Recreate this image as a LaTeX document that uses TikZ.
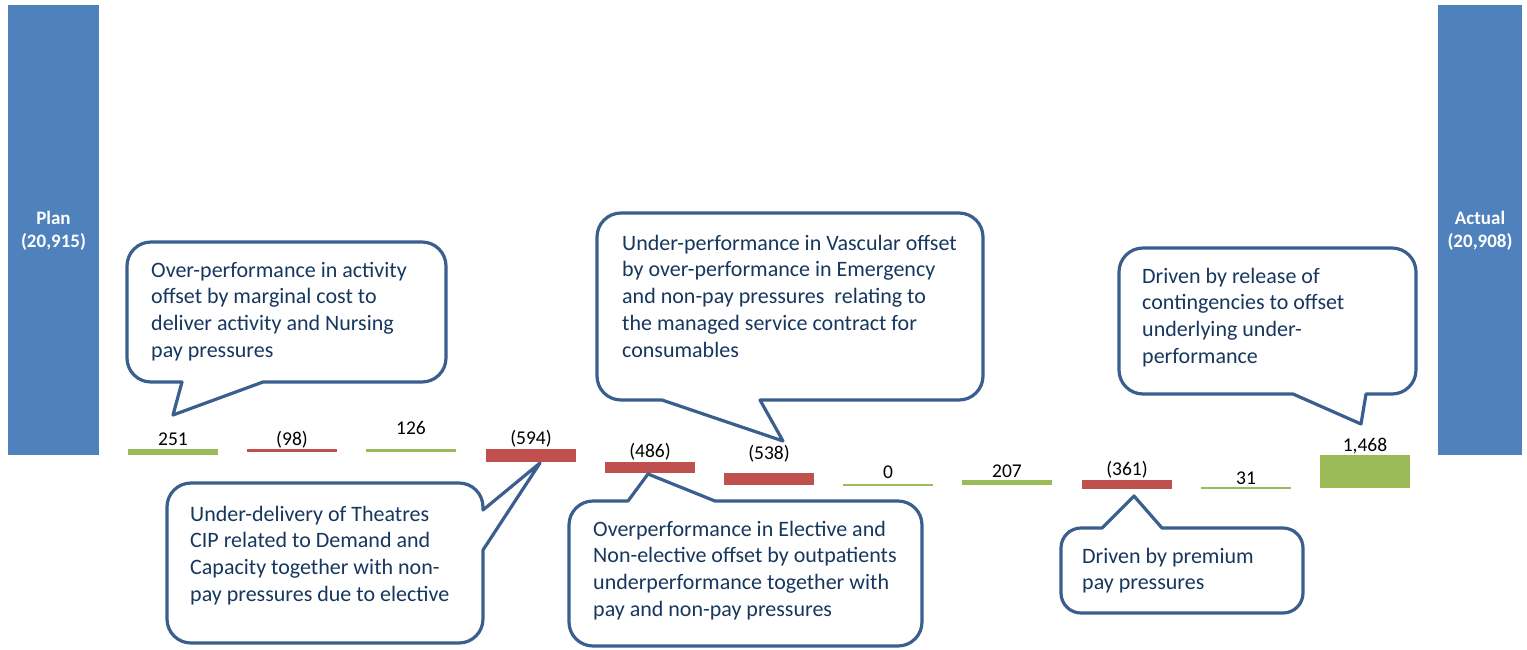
\documentclass[tikz,border=0pt]{standalone}
\usepackage{fontspec}
\setmainfont{Carlito}
\definecolor{barblue}{RGB}{79,129,189}
\definecolor{bargreen}{RGB}{155,187,89}
\definecolor{barred}{RGB}{192,80,77}
\definecolor{callborder}{RGB}{58,95,142}
\definecolor{calltext}{RGB}{23,55,94}
\tikzset{
  callbox/.style={draw=callborder, line width=3.2pt, fill=white, line join=round},
  calltxt/.style={anchor=north west, inner sep=0pt, align=left, text=calltext,
    font=\fontsize{22}{26.7}\selectfont},
  vallabel/.style={inner sep=0pt, font=\fontsize{19.5}{22}\selectfont, text=black},
  endlabel/.style={inner sep=0pt, align=center, text=white,
    font=\bfseries\fontsize{19}{23}\selectfont}
}
\newcommand{\firstline}{\rule{0pt}{18pt}}
\begin{document}
\begin{tikzpicture}[x=1pt,y=-1pt]
\useasboundingbox (0,0) rectangle (1527,649);
% end bars
\fill[barblue] (8,5) rectangle (99,455);
\fill[barblue] (1438,5) rectangle (1522,455);
\node[endlabel] (plan) at (53.5,231) {Plan\\(20,915)};
\node[endlabel] (actual) at (1480,231) {Actual\\(20,908)};
% waterfall bars
\fill[bargreen] (128,455) rectangle (218,449.36);
\fill[barred]   (247.2,449.36) rectangle (337.2,451.56);
\fill[bargreen] (366.4,451.56) rectangle (456.4,448.73);
\fill[barred]   (485.6,448.73) rectangle (575.6,462.08);
\fill[barred]   (604.8,462.08) rectangle (694.8,473.01);
\fill[barred]   (724,473.01) rectangle (814,485.10);
\fill[bargreen] (843.2,484.3) rectangle (933.2,485.8);
\fill[bargreen] (962.4,485.10) rectangle (1052.4,480.45);
\fill[barred]   (1081.6,480.45) rectangle (1171.6,488.57);
\fill[bargreen] (1200.8,488.57) rectangle (1290.8,487.3);
\fill[bargreen] (1320,487.87) rectangle (1410,454.87);
% value labels
\node[vallabel] (l1) at (173,439) {251};
\node[vallabel] (l2) at (292,440) {(98)};
\node[vallabel] (l3) at (411,428) {126};
\node[vallabel] (l4) at (531,439) {(594)};
\node[vallabel] (l5) at (650,452) {(486)};
\node[vallabel] (l6) at (769,454) {(538)};
\node[vallabel] (l7) at (888,472) {0};
\node[vallabel] (l8) at (1007,471) {207};
\node[vallabel] (l9) at (1127,470) {(361)};
\node[vallabel] (l10) at (1246,478) {31};
\node[vallabel] (l11) at (1365,446) {1,468};
% callout 1
\draw[callbox] (182,382) -- (173,415) -- (263,382) [rounded corners=24pt] -- (446,382) -- (446,242) -- (127,242) -- (127,382) [sharp corners] -- (182,382) -- cycle;
\node[calltxt] (c1) at (151,259) {\firstline Over-performance in activity\\offset by marginal cost to\\deliver activity and Nursing\\pay pressures};
% callout 2
\draw[callbox] (483,550) -- (540,463) -- (483,510) [rounded corners=24pt] -- (483,483) -- (167,483) -- (167,643) -- (483,643) [sharp corners] -- (483,550) -- cycle;
\node[calltxt] (c2) at (190,503) {\firstline Under-delivery of Theatres\\CIP related to Demand and\\Capacity together with non-\\pay pressures due to elective};
% callout 3
\draw[callbox] (662,400) -- (783,441) -- (760,400) [rounded corners=24pt] -- (983,400) -- (983,213) -- (597,213) -- (597,400) [sharp corners] -- (662,400) -- cycle;
\node[calltxt] (c3) at (622,232) {\firstline Under-performance in Vascular offset\\by over-performance in Emergency\\and non-pay pressures\ \ relating to\\the managed service contract for\\consumables};
% callout 4
\draw[callbox] (715,501) -- (648,474) -- (628,501) [rounded corners=24pt] -- (569,501) -- (569,646) -- (922,646) -- (922,501) [sharp corners] -- (715,501) -- cycle;
\node[calltxt] (c4) at (593,518) {\firstline Overperformance in Elective and\\Non-elective offset by outpatients\\underperformance together with\\pay and non-pay pressures};
% callout 5
\draw[callbox] (1162,528) -- (1134,496) -- (1102,528) [rounded corners=20pt] -- (1061,528) -- (1061,613) -- (1303,613) -- (1303,528) [sharp corners] -- (1162,528) -- cycle;
\node[calltxt] (c5) at (1082,545) {\firstline Driven by premium\\pay pressures};
% callout 6
\draw[callbox] (1293,394) -- (1361,424) -- (1366,394) [rounded corners=24pt] -- (1416,394) -- (1416,248) -- (1119,248) -- (1119,394) [sharp corners] -- (1293,394) -- cycle;
\node[calltxt] (c6) at (1142,265) {\firstline Driven by release of\\contingencies to offset\\underlying under-\\performance};
\end{tikzpicture}
\end{document}
